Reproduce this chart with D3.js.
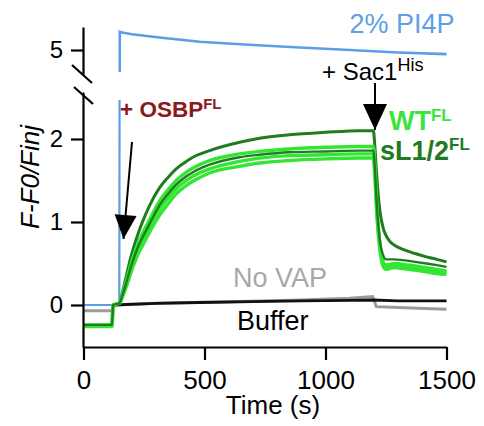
<!DOCTYPE html>
<html><head><meta charset="utf-8">
<script src="https://cdn.jsdelivr.net/npm/d3@7"></script>
<style>body{margin:0;background:#fff}svg{display:block;font-family:"Liberation Sans",Arial,sans-serif}</style>
</head><body><svg id="c" width="484" height="426"></svg>
<script>
// ---- data ----
const time = [0,118,122,148,160,177,195,211,228,245,270,314,350,383,420,452,521,645,728,850,1000,1141,1198,1203,1212,1224,1238,1250,1265,1285,1320,1370,1417,1460,1500];
const darkTop  = [-0.25,-0.25,0,0.02,0.14,0.35,0.57,0.73,0.88,1.01,1.18,1.41,1.54,1.64,1.72,1.78,1.86,1.96,2.01,2.05,2.08,2.10,2.10,1.95,1.55,1.15,0.93,0.84,0.77,0.72,0.67,0.62,0.58,0.55,0.52];
const brightA  = [-0.24,-0.24,0,0.02,0.12,0.29,0.48,0.63,0.76,0.87,1.01,1.25,1.39,1.50,1.59,1.65,1.74,1.82,1.85,1.88,1.90,1.91,1.91,1.75,1.20,0.75,0.52,0.48,0.49,0.50,0.49,0.47,0.45,0.43,0.41];
const darkMid  = [-0.24,-0.24,0,0.02,0.11,0.27,0.45,0.59,0.72,0.82,0.96,1.20,1.34,1.45,1.54,1.60,1.69,1.78,1.81,1.84,1.85,1.86,1.86,1.70,1.20,0.80,0.60,0.55,0.55,0.55,0.54,0.52,0.50,0.48,0.46];
const brightB  = [-0.25,-0.25,0,0.02,0.10,0.25,0.42,0.56,0.68,0.78,0.92,1.15,1.29,1.40,1.49,1.55,1.64,1.73,1.77,1.80,1.81,1.82,1.82,1.65,1.15,0.72,0.50,0.46,0.47,0.48,0.47,0.45,0.43,0.41,0.39];
const brightC  = [-0.26,-0.26,0,0.02,0.09,0.22,0.38,0.51,0.63,0.72,0.86,1.08,1.22,1.34,1.43,1.49,1.59,1.67,1.71,1.74,1.76,1.77,1.77,1.60,1.10,0.68,0.47,0.43,0.44,0.45,0.44,0.42,0.40,0.38,0.37];

const bufferTime = [128,300,480,700,900,1100,1200,1300,1500];
const bufferVal  = [0.00,0.02,0.03,0.04,0.05,0.055,0.06,0.05,0.05];
const noVapTime  = [0,120,124,300,600,900,1100,1195,1200,1210,1300,1500];
const noVapVal   = [-0.07,-0.07,0.00,0.02,0.04,0.06,0.08,0.10,0.06,-0.02,-0.03,-0.05];
const pi4pTime   = [0,148,150,160,200,314,480,700,893,1100,1300,1500];
const pi4pVal    = [0.00,0.00,5.22,5.21,5.19,5.15,5.10,5.06,5.03,5.00,4.97,4.95];

const xTicks = [0,500,1000,1500];
const yTicksLow = [0,1,2];
const yTicksHigh = [5];

// ---- layout ----
const svg = d3.select("#c");
const x = d3.scaleLinear().domain([0,1500]).range([83.5,446.5]);
const yLow = d3.scaleLinear().domain([-0.506,2.566]).range([347,92]);
const yHigh = d3.scaleLinear().domain([4.699,5.277]).range([75,27]);

const defs = svg.append("defs");
defs.append("clipPath").attr("id","clipLow").append("rect").attr("x",84).attr("y",100).attr("width",380).attr("height",247);
defs.append("clipPath").attr("id","clipHigh").append("rect").attr("x",84).attr("y",20).attr("width",380).attr("height",52);

const lineLow = (ts,vs,curve) => d3.line().x((d,i)=>x(ts[i])).y(d=>yLow(d)).curve(curve||d3.curveMonotoneX)(vs);
const lineHigh = (ts,vs) => d3.line().x((d,i)=>x(ts[i])).y(d=>yHigh(d))(vs);

const BLUE="#5b9de6", DARK="#1f7d1f", BRIGHT="#33e633";

// blue, both panels
svg.append("path").attr("d",lineLow(pi4pTime,pi4pVal,d3.curveLinear)).attr("clip-path","url(#clipLow)")
  .attr("fill","none").attr("stroke",BLUE).attr("stroke-width",2.2);
svg.append("path").attr("d",lineHigh(pi4pTime,pi4pVal)).attr("clip-path","url(#clipHigh)")
  .attr("fill","none").attr("stroke",BLUE).attr("stroke-width",2.6);

// no VAP and buffer
svg.append("path").attr("d",lineLow(noVapTime,noVapVal,d3.curveLinear)).attr("fill","none").attr("stroke","#9a9a9a").attr("stroke-width",3);
svg.append("path").attr("d",lineLow(bufferTime,bufferVal,d3.curveLinear)).attr("fill","none").attr("stroke","#111").attr("stroke-width",2.8);

// green series
[[darkTop,DARK,3],[brightA,BRIGHT,3.4],[brightB,BRIGHT,3.4],[brightC,BRIGHT,3.4],[darkMid,DARK,2.4]].forEach(([v,c,w])=>{
  svg.append("path").attr("d",lineLow(time,v)).attr("fill","none").attr("stroke",c).attr("stroke-width",w).attr("stroke-linejoin","round");
});

// axes
const ax = svg.append("g").attr("transform","translate(0,347)")
  .call(d3.axisBottom(x).tickValues(xTicks).tickSize(13).tickSizeOuter(0).tickPadding(11).tickFormat(d3.format("d")));
ax.selectAll("text").attr("font-size",26).attr("fill","#000");
const ayL = svg.append("g").attr("transform","translate(83,0)")
  .call(d3.axisLeft(yLow).tickValues(yTicksLow).tickSize(12).tickSizeOuter(0).tickPadding(8).tickFormat(d3.format("d")));
ayL.selectAll("text").attr("font-size",24).attr("fill","#000");
const ayH = svg.append("g").attr("transform","translate(83,0)")
  .call(d3.axisLeft(yHigh).tickValues(yTicksHigh).tickSize(12).tickSizeOuter(0).tickPadding(8).tickFormat(d3.format("d")));
ayH.selectAll("text").attr("font-size",24).attr("fill","#000");
svg.selectAll(".domain, .tick line").attr("stroke","#000").attr("stroke-width",2.2);

// break marks
svg.append("line").attr("x1",72).attr("y1",65).attr("x2",92).attr("y2",83).attr("stroke","#000").attr("stroke-width",2.2);
svg.append("line").attr("x1",74).attr("y1",87).attr("x2",93).attr("y2",104).attr("stroke","#000").attr("stroke-width",2.2);

// axis titles
svg.append("text").attr("x",273).attr("y",414).attr("text-anchor","middle").attr("font-size",26).text("Time (s)");
svg.append("text").attr("transform","translate(39,177) rotate(-90)").attr("text-anchor","middle")
  .attr("font-size",26).attr("font-style","italic").text("F-F0/Finj");

// arrows
function arrow(x1,y1,x2,y2,hw,hl){
  svg.append("line").attr("x1",x1).attr("y1",y1).attr("x2",x2).attr("y2",y2).attr("stroke","#000").attr("stroke-width",2);
  const a=Math.atan2(y2-y1,x2-x1), ux=Math.cos(a), uy=Math.sin(a);
  const bx=x2-ux*hl, by=y2-uy*hl;
  svg.append("path").attr("d",`M${x2},${y2}L${bx-uy*hw/2},${by+ux*hw/2}L${bx+uy*hw/2},${by-ux*hw/2}Z`).attr("fill","#000");
}
arrow(132,142,123.5,239,22,24);
arrow(375,83,375,130,24,26);

// annotations
svg.append("text").attr("x",402).attr("y",33).attr("text-anchor","middle").attr("font-size",27).attr("fill","#5ea0e6").text("2% PI4P");
const s1 = svg.append("text").attr("x",322).attr("y",80).attr("font-size",24).attr("fill","#000");
s1.append("tspan").text("+ Sac1");
s1.append("tspan").attr("font-size",18).attr("dy",-9).text("His");
const os = svg.append("text").attr("x",120).attr("y",117).attr("font-size",22.5).attr("font-weight","bold").attr("fill","#8b1a1e");
os.append("tspan").text("+ OSBP");
os.append("tspan").attr("font-size",15).attr("dy",-8).text("FL");
const wt = svg.append("text").attr("x",389).attr("y",130).attr("font-size",27).attr("font-weight","bold").attr("fill","#3de33d");
wt.append("tspan").text("WT");
wt.append("tspan").attr("font-size",17).attr("dy",-9).text("FL");
const sl = svg.append("text").attr("x",380).attr("y",160).attr("font-size",27).attr("font-weight","bold").attr("fill","#1f7a22");
sl.append("tspan").text("sL1/2");
sl.append("tspan").attr("font-size",17).attr("dy",-10).text("FL");
svg.append("text").attr("x",233).attr("y",287).attr("font-size",27).attr("fill","#a8a8a8").text("No VAP");
svg.append("text").attr("x",237).attr("y",330).attr("font-size",27).attr("fill","#000").text("Buffer");
</script></body></html>
